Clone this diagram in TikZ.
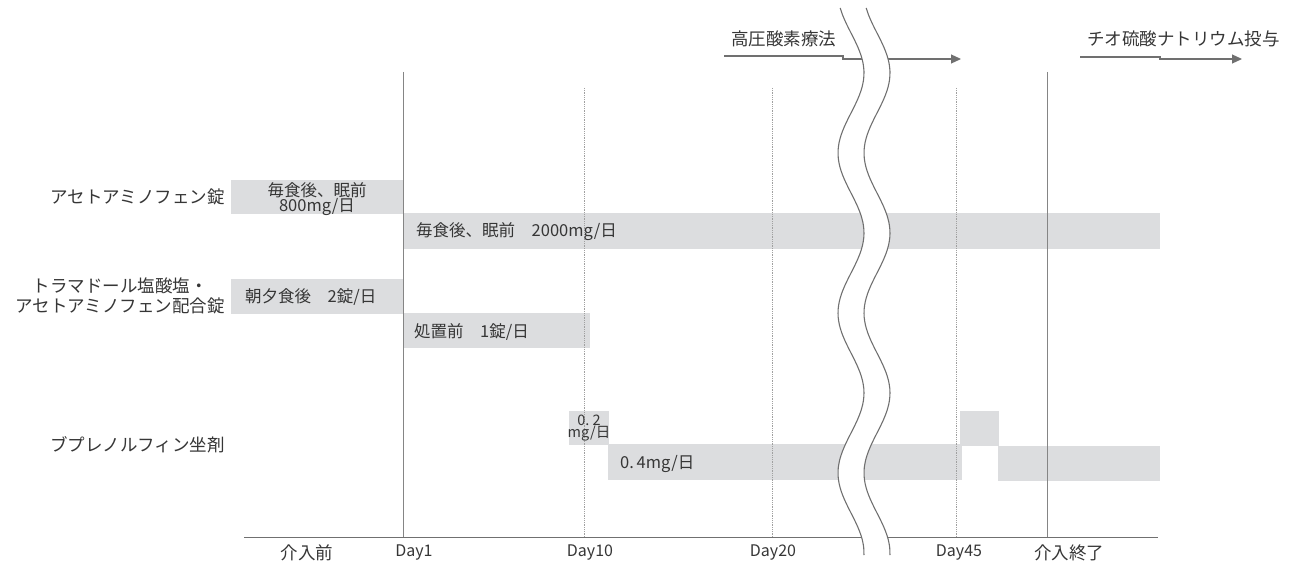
\documentclass[tikz,border=0pt]{standalone}
\usepackage{fontspec}
\setmainfont{Noto Sans CJK JP}
\usetikzlibrary{arrows.meta}
\definecolor{barc}{HTML}{DCDDDF}
\definecolor{txt}{HTML}{363636}
\definecolor{ln}{HTML}{707070}
\definecolor{lnlight}{HTML}{A0A0A0}
\begin{document}
\begin{tikzpicture}[x=1pt,y=-1pt,
  lbl/.style={text=txt,font=\fontsize{17.5}{21}\selectfont,inner sep=0pt},
  daytxt/.style={text=txt,font=\fontsize{16}{20}\selectfont,inner sep=0pt},
  bartxt/.style={text=txt,font=\fontsize{16.5}{18}\selectfont,inner sep=0pt},
  smalltxt/.style={text=txt,font=\fontsize{14.5}{15}\selectfont,inner sep=0pt},
  bar/.style={fill=barc},
  solidv/.style={draw=ln!85,line width=0.9pt},
  dotv/.style={draw=lnlight,line width=0.8pt,densely dotted},
  axisline/.style={draw=ln,line width=1pt},
  arr/.style={draw=ln,line width=1.1pt,-{Triangle[length=10pt,width=9pt]}},
  wave/.style={draw=ln,line width=1.1pt}]
\useasboundingbox (0,0) rectangle (1296,567);

% bars
\fill[bar] (231,180) rectangle (403,214);
\fill[bar] (403,213) rectangle (1160,249);
\fill[bar] (231,279) rectangle (403,314);
\fill[bar] (403,313) rectangle (590,348);
\fill[bar] (569,411) rectangle (609,445);
\fill[bar] (608,444) rectangle (962,480);
\fill[bar] (960,411) rectangle (999,446);
\fill[bar] (998,446) rectangle (1160,481);

% vertical lines
\coordinate (d1t) at (403,72);   \coordinate (d1b) at (403,537);
\coordinate (d10t) at (584,88);  \coordinate (d10b) at (584,537);
\coordinate (d20t) at (772,88);  \coordinate (d20b) at (772,537);
\coordinate (d45t) at (956,88);  \coordinate (d45b) at (956,537);
\coordinate (endt) at (1047,72); \coordinate (endb) at (1047,537);
\draw[solidv] (d1t) -- (d1b);
\draw[dotv] (d10t) -- (d10b);
\draw[dotv] (d20t) -- (d20b);
\draw[dotv] (d45t) -- (d45b);
\draw[solidv] (endt) -- (endb);

% axis
\coordinate (ax0) at (244,537);
\coordinate (ax1) at (1158,537);
\draw[axisline] (ax0) -- (ax1);

% top arrows
\coordinate (h0) at (724,56);
\coordinate (h1) at (843,56);
\coordinate (h2) at (843,59);
\coordinate (h3) at (961,59);
\draw[arr] (h0) -- (h1) -- (h2) -- (h3);
\coordinate (t0) at (1080,57);
\coordinate (t1) at (1160,57);
\coordinate (t2) at (1160,59);
\coordinate (t3) at (1242,59);
\draw[arr] (t0) -- (t1) -- (t2) -- (t3);
\node[lbl,anchor=west] (hbo) at (731,39) {高圧酸素療法};
\node[lbl,anchor=west] (thio) at (1087,39) {チオ硫酸ナトリウム投与};

% left labels
\node[lbl,anchor=east] (drug1) at (225,197) {アセトアミノフェン錠};
\node[lbl,anchor=east,align=center] (drug2) at (225,296) {トラマドール塩酸塩・\\[-1pt]アセトアミノフェン配合錠};
\node[lbl,anchor=east] (drug3) at (225,445) {ブプレノルフィン坐剤};

% bar texts
\node[bartxt,align=center] (b1) at (317,199) {毎食後、眠前\\[-3pt]800mg/日};
\node[bartxt,anchor=west] (b2) at (416,232) {毎食後、眠前　2000mg/日};
\node[bartxt,anchor=west] (b3) at (245,297) {朝夕食後　2錠/日};
\node[bartxt,anchor=west] (b4) at (414,332) {処置前　1錠/日};
\node[smalltxt,align=center] (b5) at (589,428) {0.\ 2\\[-3pt]mg/日};
\node[bartxt,anchor=west] (b6) at (620,464) {0.\,4mg/日};

% axis labels
\node[lbl] (x0) at (307,553) {介入前};
\node[daytxt] (x1) at (414,553) {Day1};
\node[daytxt] (x10) at (590,553) {Day10};
\node[daytxt] (x20) at (773,553) {Day20};
\node[daytxt] (x45) at (959,553) {Day45};
\node[lbl] (xend) at (1069,553) {介入終了};

% wavy break
\fill[white] plot[smooth,domain=8:555,samples=70] ({851+13*cos(2.25*(\x-73))},\x)
  -- plot[smooth,domain=555:8,samples=70] ({877+13*cos(2.25*(\x-73))},\x) -- cycle;
\draw[wave] plot[smooth,domain=8:555,samples=70] ({851+13*cos(2.25*(\x-73))},\x);
\draw[wave] plot[smooth,domain=8:555,samples=70] ({877+13*cos(2.25*(\x-73))},\x);
\end{tikzpicture}
\end{document}
